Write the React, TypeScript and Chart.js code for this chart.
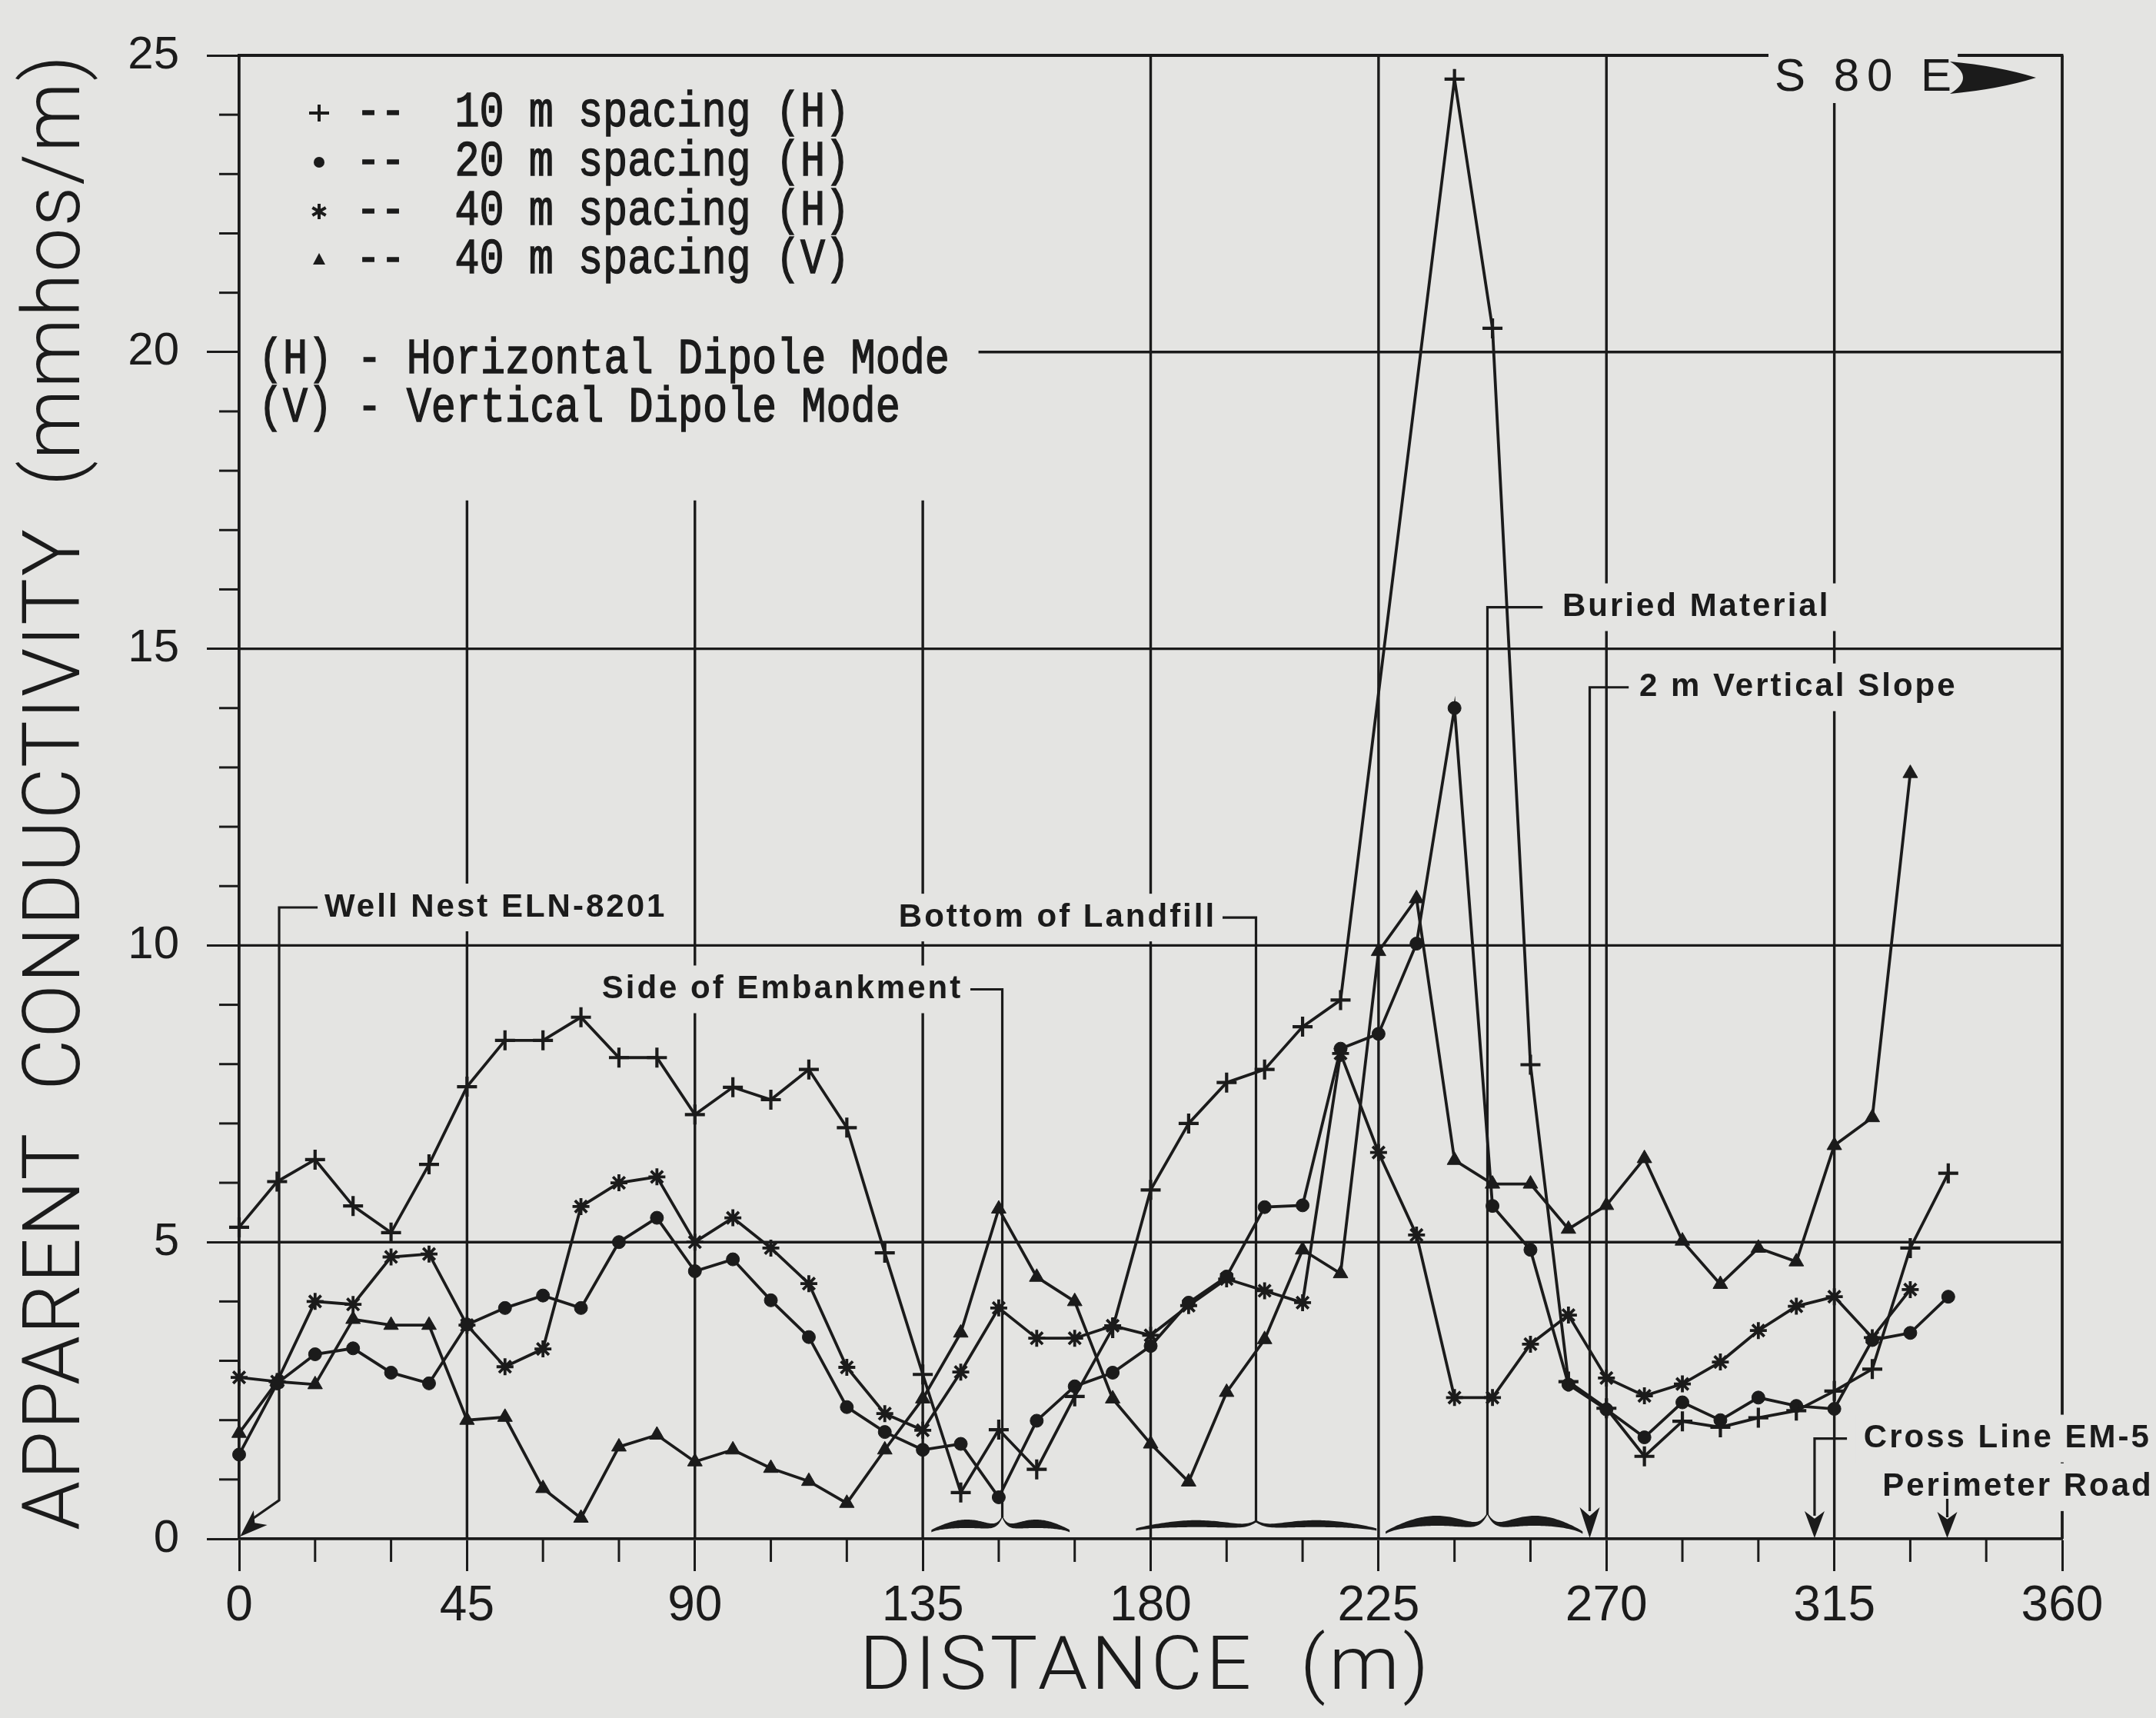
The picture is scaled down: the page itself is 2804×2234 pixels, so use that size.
import React, { useEffect, useRef } from 'react';
import { Chart, registerables } from 'chart.js';

Chart.register(...registerables);

// ---------------- data ----------------
const distances = [
  0, 7.5, 15, 22.5, 30, 37.5, 45, 52.5, 60, 67.5,
  75, 82.5, 90, 97.5, 105, 112.5, 120, 127.5, 135, 142.5,
  150, 157.5, 165, 172.5, 180, 187.5, 195, 202.5, 210, 217.5,
  225, 232.5, 240, 247.5, 255, 262.5, 270, 277.5, 285, 292.5,
  300, 307.5, 315, 322.5, 330, 337.5,
];

// 10 m spacing (H)  "+"
const spacing10H: (number | null)[] = [
  5.25, 6.02, 6.39, 5.61, 5.16, 6.31, 7.62, 8.4, 8.4, 8.79,
  8.11, 8.11, 7.15, 7.61, 7.4, 7.91, 6.93, 4.82, 2.77, 0.78,
  1.84, 1.17, 2.4, 3.55, 5.88, 7.0, 7.69, 7.91, 8.63, 9.08,
  null, null, 24.6, 20.4, 7.99, 2.65, 2.2, 1.39, 1.98, 1.88,
  2.04, 2.16, 2.49, 2.86, 4.9, 6.16,
];

// 20 m spacing (H)  dot
const spacing20H: (number | null)[] = [
  1.42, 2.62, 3.11, 3.21, 2.8, 2.62, 3.61, 3.89, 4.1, 3.89,
  5.0, 5.41, 4.51, 4.71, 4.02, 3.4, 2.22, 1.8, 1.5, 1.6,
  0.7, 1.99, 2.57, 2.8, 3.25, 3.98, 4.42, 5.59, 5.62, 8.26,
  8.51, 10.03, 14.0, 5.61, 4.87, 2.6, 2.18, 1.71, 2.3, 2.0,
  2.38, 2.24, 2.19, 3.35, 3.47, 4.08,
];

// 40 m spacing (H)  asterisk
const spacing40H: (number | null)[] = [
  2.72, 2.65, 4.0, 3.95, 4.75, 4.8, 3.6, 2.9, 3.2, 5.6,
  6.0, 6.1, 5.0, 5.41, 4.9, 4.3, 2.89, 2.11, 1.83, 2.81,
  3.89, 3.38, 3.38, 3.59, 3.43, 3.93, 4.38, 4.18, 3.98, 8.18,
  6.51, 5.12, 2.38, 2.38, 3.28, 3.77, 2.71, 2.41, 2.61, 2.98,
  3.51, 3.92, 4.08, 3.39, 4.2, null,
];

// 40 m spacing (V)  triangle
const spacing40V: (number | null)[] = [
  1.78, 2.65, 2.6, 3.7, 3.6, 3.6, 2.0, 2.05, 0.85, 0.35,
  1.55, 1.75, 1.3, 1.5, 1.19, 0.97, 0.6, 1.5, 2.36, 3.47,
  5.56, 4.41, 4.0, 2.36, 1.6, 0.96, 2.47, 3.36, 4.87, 4.47,
  9.9, 10.79, 6.38, 5.98, 5.98, 5.22, 5.62, 6.41, 5.02, 4.29,
  4.9, 4.67, 6.63, 7.1, 12.9, null,
];

const seriesLabels = ['10 m spacing (H)', '20 m spacing (H)', '40 m spacing (H)', '40 m spacing (V)'];
const modeNotes = ['(H) - Horizontal Dipole Mode', '(V) - Vertical Dipole Mode'];
const xMajorTicks = [0, 45, 90, 135, 180, 225, 270, 315, 360];
const yMajorTicks = [0, 5, 10, 15, 20, 25];
const xTitle = 'DISTANCE  (m)';
const yTitle = 'APPARENT  CONDUCTIVITY  (mmhos/m)';
const directionText = 'S 80 E';
const annotationTexts = [
  'Well Nest ELN-8201',
  'Side of Embankment',
  'Bottom of Landfill',
  'Buried Material',
  '2 m Vertical Slope',
  'Cross Line EM-5',
  'Perimeter Road',
];

// ---------------- styling / layout ----------------
const INK = '#1b1b1b';
const PAPER = '#e4e4e2';
const SANS = '"Liberation Sans", Arial, sans-serif';
const MONO = '"Liberation Mono", "Courier New", monospace';
const TITLE_FONT = 'Roboto, "Liberation Sans", sans-serif';

const hGridLines = [
  { value: 5, from: 0, to: 360 },
  { value: 10, from: 0, to: 360 },
  { value: 15, from: 0, to: 360 },
  { value: 20, from: 146, to: 360 },
];
const vGridLines = [
  { value: 45, from: 0, to: 17.5 },
  { value: 90, from: 0, to: 17.5 },
  { value: 135, from: 0, to: 17.5 },
  { value: 180, from: 0, to: 25 },
  { value: 225, from: 0, to: 25 },
  { value: 270, from: 0, to: 25 },
  { value: 315, from: 0, to: 25 },
];

function seg(ctx: CanvasRenderingContext2D, x1: number, y1: number, x2: number, y2: number) {
  ctx.beginPath();
  ctx.moveTo(x1, y1);
  ctx.lineTo(x2, y2);
  ctx.stroke();
}

function poly(ctx: CanvasRenderingContext2D, pts: number[][]) {
  ctx.beginPath();
  ctx.moveTo(pts[0][0], pts[0][1]);
  for (let i = 1; i < pts.length; i++) ctx.lineTo(pts[i][0], pts[i][1]);
  ctx.stroke();
}

function head(ctx: CanvasRenderingContext2D, fx: number, fy: number, tx: number, ty: number, len: number, hw: number) {
  const a = Math.atan2(ty - fy, tx - fx);
  const c = Math.cos(a);
  const s = Math.sin(a);
  const bx = tx - len * c;
  const by = ty - len * s;
  const nx = tx - len * 0.72 * c;
  const ny = ty - len * 0.72 * s;
  ctx.beginPath();
  ctx.moveTo(tx, ty);
  ctx.lineTo(bx - hw * s, by + hw * c);
  ctx.lineTo(nx, ny);
  ctx.lineTo(bx + hw * s, by - hw * c);
  ctx.closePath();
  ctx.fill();
}

function brace(ctx: CanvasRenderingContext2D, xl: number, xc: number, xr: number, yb: number, h: number, hump: number, thin: number, thick: number) {
  const f = (u: number) => hump * Math.pow(Math.sin(Math.PI * u), 0.8) + Math.pow(u, 14);
  const th = (u: number) => thin + thick * Math.pow(Math.sin(Math.PI * u), 1.3);
  const top: number[][] = [];
  const bot: number[][] = [];
  const N = 60;
  for (let i = 0; i <= N; i++) {
    const u = i / N;
    const x = xl + (xc - xl) * u;
    const yc = yb - h * f(u);
    const t = th(u);
    top.push([x, yc - t / 2]);
    bot.push([x, yc + t / 2]);
  }
  for (let i = N - 1; i >= 0; i--) {
    const u = i / N;
    const x = xr - (xr - xc) * u;
    const yc = yb - h * f(u);
    const t = th(u);
    top.push([x, yc - t / 2]);
    bot.push([x, yc + t / 2]);
  }
  ctx.beginPath();
  ctx.moveTo(top[0][0], top[0][1]);
  for (let i = 1; i < top.length; i++) ctx.lineTo(top[i][0], top[i][1]);
  for (let i = bot.length - 1; i >= 0; i--) ctx.lineTo(bot[i][0], bot[i][1]);
  ctx.closePath();
  ctx.fill();
}

function label(ctx: any, text: string, x: number, y: number, align: 'left' | 'right') {
  ctx.font = `bold 42px ${SANS}`;
  ctx.letterSpacing = '3px';
  const w = ctx.measureText(text).width;
  const left = align === 'left' ? x : x - w;
  ctx.fillStyle = PAPER;
  ctx.fillRect(left - 10, y - 31, w + 18, 62);
  ctx.fillStyle = INK;
  ctx.textAlign = 'left';
  ctx.textBaseline = 'middle';
  ctx.fillText(text, left, y);
  ctx.letterSpacing = '0px';
}

function monoText(ctx: any, text: string, x: number, y: number) {
  ctx.save();
  ctx.translate(x, y);
  ctx.scale(1, 1.22);
  ctx.font = `53.5px ${MONO}`;
  ctx.textAlign = 'left';
  ctx.textBaseline = 'middle';
  ctx.fillStyle = INK;
  ctx.lineWidth = 1.2;
  ctx.strokeStyle = INK;
  ctx.fillText(text, 0, 0);
  ctx.strokeText(text, 0, 0);
  ctx.restore();
}

const overlayPlugin = {
  id: 'overlay',
  beforeDatasetsDraw(chart: any) {
    const ctx: any = chart.ctx;
    const ca = chart.chartArea;
    const xs = chart.scales.x;
    const ys = chart.scales.y;
    const px = (v: number) => xs.getPixelForValue(v);
    const py = (v: number) => ys.getPixelForValue(v);

    ctx.save();
    ctx.strokeStyle = INK;
    ctx.fillStyle = INK;
    ctx.lineCap = 'butt';

    // minor ticks
    ctx.lineWidth = 3;
    for (const t of xs.ticks) {
      if (!xMajorTicks.includes(t.value)) seg(ctx, px(t.value), ca.bottom, px(t.value), ca.bottom + 30);
    }
    for (const t of ys.ticks) {
      if (!yMajorTicks.includes(t.value)) seg(ctx, ca.left, py(t.value), ca.left - 26, py(t.value));
    }

    // partial grid lines
    ctx.lineWidth = 3.4;
    for (const g of hGridLines) seg(ctx, px(g.from), py(g.value), px(g.to), py(g.value));
    for (const g of vGridLines) seg(ctx, px(g.value), py(g.from), px(g.value), py(g.to));

    // top and right frame
    ctx.lineWidth = 3.8;
    seg(ctx, ca.left - 1.5, ca.top, ca.right + 1.5, ca.top);
    seg(ctx, ca.right, ca.top, ca.right, ca.bottom);

    // annotation labels (with paper-coloured backing that breaks grid lines)
    label(ctx, annotationTexts[0], px(16.85), py(10.64), 'left');
    label(ctx, annotationTexts[1], px(142.9), py(9.26), 'right');
    label(ctx, annotationTexts[2], px(193.0), py(10.47), 'right');
    label(ctx, annotationTexts[3], px(261.3), py(15.7), 'left');
    label(ctx, annotationTexts[4], px(276.5), py(14.35), 'left');
    label(ctx, annotationTexts[5], px(320.8), py(1.69), 'left');
    label(ctx, annotationTexts[6], px(324.5), py(0.87), 'left');

    // direction text + arrow
    ctx.font = `60px ${SANS}`;
    ctx.letterSpacing = '10px';
    {
      const w = ctx.measureText(directionText).width;
      ctx.fillStyle = PAPER;
      ctx.fillRect(2300, 68, w + 6, 66);
      ctx.fillStyle = INK;
      ctx.textAlign = 'left';
      ctx.textBaseline = 'middle';
      ctx.fillText(directionText, 2308, 101);
    }
    ctx.letterSpacing = '0px';
    ctx.beginPath();
    ctx.moveTo(2648, 101);
    ctx.quadraticCurveTo(2600, 86, 2536, 80);
    ctx.quadraticCurveTo(2570, 101, 2536, 122);
    ctx.quadraticCurveTo(2600, 116, 2648, 101);
    ctx.closePath();
    ctx.fill();

    // leader lines
    ctx.lineWidth = 3.2;
    ctx.strokeStyle = INK;
    ctx.fillStyle = INK;
    // Well Nest
    poly(ctx, [[px(15.5), py(10.64)], [px(7.9), py(10.64)], [px(7.9), py(0.65)], [px(2.2), ca.bottom - 24]]);
    head(ctx, px(7.9), py(0.65), px(0.2), ca.bottom - 3, 36, 13);
    // Side of Embankment
    poly(ctx, [[px(144.4), py(9.26)], [px(150.7), py(9.26)], [px(150.7), ca.bottom - 28]]);
    // Bottom of Landfill
    poly(ctx, [[px(194.2), py(10.47)], [px(200.8), py(10.47)], [px(200.8), ca.bottom - 21]]);
    // Buried Material
    poly(ctx, [[px(257.4), py(15.7)], [px(246.5), py(15.7)], [px(246.5), ca.bottom - 32]]);
    // 2 m Vertical Slope
    poly(ctx, [[px(274.4), py(14.35)], [px(266.7), py(14.35)], [px(266.7), ca.bottom - 36]]);
    head(ctx, px(266.7), ca.bottom - 100, px(266.7), ca.bottom - 1, 40, 13);
    // Cross Line EM-5
    poly(ctx, [[px(317.5), py(1.69)], [px(311.1), py(1.69)], [px(311.1), ca.bottom - 30]]);
    head(ctx, px(311.1), ca.bottom - 100, px(311.1), ca.bottom - 1, 35, 13);
    // Perimeter Road
    seg(ctx, px(337.3), ca.bottom - 52, px(337.3), ca.bottom - 28);
    head(ctx, px(337.3), ca.bottom - 100, px(337.3), ca.bottom - 1, 34, 13);

    // braces
    brace(ctx, px(136.7), px(150.7), px(164.0), ca.bottom - 10, 19, 0.5, 3, 8);
    brace(ctx, px(177.1), px(200.8), px(224.6), ca.bottom - 12, 11, 0.7, 3, 6);
    brace(ctx, px(226.4), px(246.5), px(265.3), ca.bottom - 8, 25, 0.62, 3, 10);

    // legend
    const lx = 415;
    const rows = [147, 211, 275, 338];
    ctx.lineWidth = 4;
    seg(ctx, lx - 13, rows[0], lx + 13, rows[0]);
    seg(ctx, lx, rows[0] - 11, lx, rows[0] + 11);
    ctx.beginPath();
    ctx.arc(lx, rows[1], 7, 0, Math.PI * 2);
    ctx.fill();
    for (let k = 0; k < 3; k++) {
      const a = Math.PI / 2 + (k * Math.PI) / 3;
      seg(ctx, lx - 10 * Math.cos(a), rows[2] - 10 * Math.sin(a), lx + 10 * Math.cos(a), rows[2] + 10 * Math.sin(a));
    }
    ctx.beginPath();
    ctx.moveTo(lx, rows[3] - 9);
    ctx.lineTo(lx + 8, rows[3] + 6);
    ctx.lineTo(lx - 8, rows[3] + 6);
    ctx.closePath();
    ctx.fill();
    for (let i = 0; i < 4; i++) monoText(ctx, '--  ' + seriesLabels[i], 463, rows[i]);
    monoText(ctx, modeNotes[0], 336, 468);
    monoText(ctx, modeNotes[1], 336, 531);

    // axis titles
    ctx.fillStyle = INK;
    ctx.font = `300 97px ${TITLE_FONT}`;
    ctx.letterSpacing = '4px';
    ctx.textAlign = 'center';
    ctx.textBaseline = 'middle';
    {
      const w = ctx.measureText(xTitle).width;
      ctx.save();
      ctx.translate(1490, 2172);
      ctx.scale(745 / w, 1);
      ctx.fillText(xTitle, 0, 0);
      ctx.restore();
    }
    ctx.font = `300 104px ${TITLE_FONT}`;
    ctx.letterSpacing = '2px';
    {
      const w = ctx.measureText(yTitle).width;
      ctx.save();
      ctx.translate(77, 1030);
      ctx.rotate(-Math.PI / 2);
      ctx.scale(1920 / w, 1);
      ctx.fillText(yTitle, 0, 0);
      ctx.restore();
    }
    ctx.letterSpacing = '0px';
    ctx.restore();
  },
};

const toXY = (vals: (number | null)[]) => distances.map((d, i) => ({ x: d, y: vals[i] }));

export default function App() {
  const ref = useRef<HTMLCanvasElement>(null);

  useEffect(() => {
    document.body.style.margin = '0';
    document.body.style.background = PAPER;
    const common = {
      borderColor: INK,
      backgroundColor: INK,
      pointBorderColor: INK,
      pointBackgroundColor: INK,
      borderWidth: 3.8,
      tension: 0,
      clip: false as any,
      fill: false,
    };
    const chart = new Chart(ref.current as HTMLCanvasElement, {
      type: 'line',
      data: {
        datasets: [
          { ...common, label: seriesLabels[0], data: toXY(spacing10H) as any, pointStyle: 'cross', pointRadius: 13, pointBorderWidth: 4.2, spanGaps: true },
          { ...common, label: seriesLabels[1], data: toXY(spacing20H) as any, pointStyle: 'circle', pointRadius: 8.5, pointBorderWidth: 1 },
          { ...common, label: seriesLabels[2], data: toXY(spacing40H) as any, pointStyle: 'star', pointRadius: 11, pointBorderWidth: 3.8 },
          { ...common, label: seriesLabels[3], data: toXY(spacing40V) as any, pointStyle: 'triangle', pointRadius: 11, pointBorderWidth: 1 },
        ] as any,
      },
      options: {
        responsive: false,
        animation: false,
        devicePixelRatio: 1,
        events: [],
        layout: { padding: { top: 48, right: 122, left: 0, bottom: 0 } },
        plugins: {
          legend: { display: false },
          tooltip: { enabled: false },
        },
        scales: {
          x: {
            type: 'linear',
            min: 0,
            max: 360,
            afterFit: (s: any) => {
              s.height = 233;
            },
            ticks: {
              stepSize: 15,
              maxTicksLimit: 100,
              autoSkip: false,
              maxRotation: 0,
              padding: 8,
              color: INK,
              font: { size: 64, family: SANS },
              callback: (v: any) => (xMajorTicks.includes(Number(v)) ? String(v) : ''),
            },
            grid: {
              drawOnChartArea: false,
              drawTicks: true,
              tickLength: 42,
              tickWidth: 3,
              tickColor: (c: any) => (c.tick && xMajorTicks.includes(c.tick.value) ? INK : 'rgba(0,0,0,0)'),
            },
            border: { display: true, color: INK, width: 3.8 },
          },
          y: {
            type: 'linear',
            min: 0,
            max: 25,
            afterFit: (s: any) => {
              s.width = 311;
            },
            ticks: {
              stepSize: 1,
              maxTicksLimit: 100,
              autoSkip: false,
              padding: 36,
              color: INK,
              font: { size: 60, family: SANS },
              callback: (v: any) => (yMajorTicks.includes(Number(v)) ? String(v) : ''),
            },
            grid: {
              drawOnChartArea: false,
              drawTicks: true,
              tickLength: 42,
              tickWidth: 3,
              tickColor: (c: any) => (c.tick && yMajorTicks.includes(c.tick.value) ? INK : 'rgba(0,0,0,0)'),
            },
            border: { display: true, color: INK, width: 3.8 },
          },
        },
      } as any,
      plugins: [overlayPlugin],
    });
    return () => chart.destroy();
  }, []);

  return (
    <div style={{ position: 'fixed', left: 0, top: 0, width: 2804, height: 2234, background: PAPER }}>
      <canvas ref={ref} width={2804} height={2234} style={{ width: 2804, height: 2234, display: 'block' }} />
    </div>
  );
}
